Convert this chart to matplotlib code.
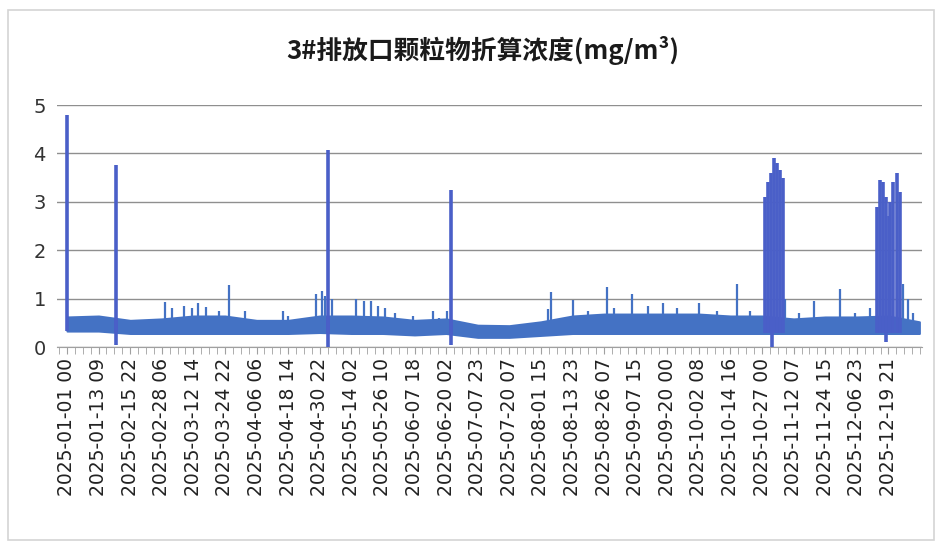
import matplotlib
matplotlib.use('Agg')
import matplotlib.pyplot as plt
from matplotlib.ticker import MultipleLocator
from matplotlib.patches import Rectangle
import numpy as np
import pandas as pd

plt.rcParams['font.family'] = ['DejaVu Sans', 'Noto Sans CJK SC']

title = '3#排放口颗粒物折算浓度(mg/m³)'

# hourly rows, one axis label every 296 rows (some hours are missing between labels)
tick_times = ['2025-01-01 00', '2025-01-13 09', '2025-02-15 22', '2025-02-28 06',
              '2025-03-12 14', '2025-03-24 22', '2025-04-06 06', '2025-04-18 14',
              '2025-04-30 22', '2025-05-14 02', '2025-05-26 10', '2025-06-07 18',
              '2025-06-20 02', '2025-07-07 23', '2025-07-20 07', '2025-08-01 15',
              '2025-08-13 23', '2025-08-26 07', '2025-09-07 15', '2025-09-20 00',
              '2025-10-02 08', '2025-10-14 16', '2025-10-27 00', '2025-11-12 07',
              '2025-11-24 15', '2025-12-06 23', '2025-12-19 21']
last_time = '2025-12-31 23'
rows_per_label = 296

# ordinary readings: lower / upper edge of the band at each label (+ the end)
band_low = [0.33, 0.33, 0.28, 0.28, 0.28, 0.28, 0.28, 0.28, 0.30, 0.28,
            0.28, 0.25, 0.28, 0.20, 0.20, 0.24, 0.28, 0.28, 0.28, 0.28,
            0.28, 0.28, 0.28, 0.28, 0.28, 0.28, 0.28, 0.28]
band_high = [0.62, 0.64, 0.55, 0.58, 0.64, 0.64, 0.55, 0.55, 0.64, 0.64,
             0.62, 0.55, 0.58, 0.45, 0.44, 0.52, 0.64, 0.68, 0.68, 0.68,
             0.68, 0.64, 0.64, 0.58, 0.62, 0.62, 0.64, 0.52]

# peaks above the band
peak_times = ['2025-01-01 00', '2025-01-20 00', '2025-03-01 10', '2025-03-04 04',
              '2025-03-08 20', '2025-03-11 23', '2025-03-14 13', '2025-03-17 16',
              '2025-03-22 18', '2025-03-26 11', '2025-04-01 17', '2025-04-16 10',
              '2025-04-18 08', '2025-04-29 12', '2025-05-01 17', '2025-05-02 21',
              '2025-05-04 01', '2025-05-05 14', '2025-05-16 01', '2025-05-19 04',
              '2025-05-21 21', '2025-05-24 15', '2025-05-27 05', '2025-05-31 02',
              '2025-06-07 03', '2025-06-14 19', '2025-06-17 12', '2025-06-20 11',
              '2025-06-22 01', '2025-08-04 09', '2025-08-05 13', '2025-08-14 03',
              '2025-08-19 20', '2025-08-27 11', '2025-08-30 05', '2025-09-06 05',
              '2025-09-12 07', '2025-09-18 04', '2025-09-23 22', '2025-10-02 12',
              '2025-10-09 09', '2025-10-17 10', '2025-10-22 11', '2025-10-28 04',
              '2025-10-29 08', '2025-10-30 10', '2025-10-31 16', '2025-11-01 21',
              '2025-11-03 01', '2025-11-04 05', '2025-11-05 00', '2025-11-14 06',
              '2025-11-20 02', '2025-11-30 12', '2025-12-06 08', '2025-12-12 01',
              '2025-12-14 18', '2025-12-15 23', '2025-12-17 03', '2025-12-18 07',
              '2025-12-20 02', '2025-12-20 16', '2025-12-21 20', '2025-12-23 09',
              '2025-12-24 13', '2025-12-25 18', '2025-12-27 16', '2025-12-29 15']
peak_vals = [4.80, 3.76, 0.92, 0.80, 0.85, 0.80, 0.90, 0.82,
             0.75, 1.28, 0.75, 0.75, 0.65, 1.10, 1.15, 1.05,
             4.07, 1.00, 1.00, 0.95, 0.95, 0.85, 0.80, 0.70,
             0.65, 0.75, 0.60, 0.75, 3.24, 0.78, 1.13, 0.97,
             0.75, 1.25, 0.80, 1.10, 0.85, 0.90, 0.80, 0.90,
             0.75, 1.30, 0.75, 3.10, 3.40, 3.60, 3.90, 3.80,
             3.66, 3.50, 1.00, 0.70, 0.95, 1.20, 0.70, 0.80,
             2.90, 3.45, 3.40, 3.10, 2.70, 3.00, 3.40, 3.60,
             3.20, 1.30, 1.00, 0.70]

# drops below the band
dip_times = ['2025-01-20 00', '2025-05-04 01', '2025-06-22 01', '2025-10-30 22',
             '2025-12-18 07']
dip_vals = [0.05, 0.0, 0.05, 0.0, 0.10]

starts = pd.to_datetime(tick_times, format='%Y-%m-%d %H')
parts = [pd.date_range(s, periods=rows_per_label, freq='h') for s in starts[:-1]]
parts.append(pd.date_range(starts[-1], pd.to_datetime(last_time, format='%Y-%m-%d %H'), freq='h'))
times = parts[0].append(parts[1:])
n = len(times)
tick_idx = np.arange(len(tick_times)) * rows_per_label
band_x = np.append(tick_idx, n - 1)

peak_idx = times.get_indexer(pd.to_datetime(peak_times, format='%Y-%m-%d %H'), method='nearest')
dip_idx = times.get_indexer(pd.to_datetime(dip_times, format='%Y-%m-%d %H'), method='nearest')
peak_vals = np.array(peak_vals)
big = peak_vals > 2

line_color = '#4472C4'
spike_color = '#4A5FC8'

fig = plt.figure(figsize=(9.4, 5.45), dpi=100)
fig.patches.append(Rectangle((0.009, 0.01), 0.985, 0.972, transform=fig.transFigure,
                             fill=False, edgecolor='#d4d4d4', lw=1.2))
ax = fig.add_axes([0.0606, 0.3633, 0.9204, 0.444])

ax.fill_between(band_x, band_low, band_high, color=line_color, lw=1.5, zorder=3)
base = np.interp(peak_idx, band_x, band_low)
ax.vlines(peak_idx[~big], base[~big], peak_vals[~big], color=line_color, lw=1.6, zorder=4)
ax.vlines(peak_idx[big], base[big], peak_vals[big], color=spike_color, lw=2.6, zorder=4)
ax.vlines(dip_idx, dip_vals, np.interp(dip_idx, band_x, band_high),
          color=spike_color, lw=2.6, zorder=4)

ax.set_ylim(0, 5)
ax.set_xlim(-94, n + 25)
ax.set_yticks(range(6))
ax.yaxis.grid(True, color='#8f8f8f', lw=1.0)
ax.set_axisbelow(True)
for s in ['left', 'right', 'top']:
    ax.spines[s].set_visible(False)
ax.spines['bottom'].set_color('#a0a0a0')

ax.set_xticks(tick_idx)
ax.set_xticklabels(tick_times, rotation=90, fontsize=13.5, color='#222222')
ax.xaxis.set_minor_locator(MultipleLocator(rows_per_label / 4))
ax.tick_params(axis='x', which='both', direction='out', length=5, color='#a0a0a0', pad=3)
ax.tick_params(axis='y', length=0, labelsize=14, labelcolor='#333333', pad=8)

fig.text(0.514, 0.908, title, ha='center', va='center', fontsize=18.5, fontweight='bold',
         family=['Noto Sans CJK SC', 'DejaVu Sans'], color='#1a1a1a')

fig.savefig('out.png', dpi=100, facecolor='white')
